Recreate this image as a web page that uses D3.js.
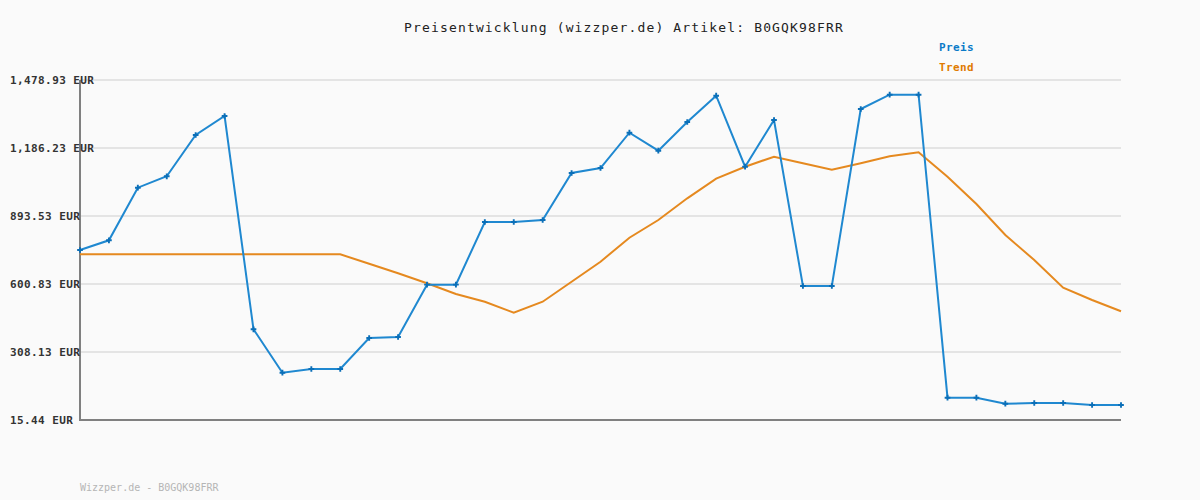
<!DOCTYPE html>
<html><head><meta charset="utf-8">
<script src="https://cdn.jsdelivr.net/npm/d3@7"></script>
<style>body{margin:0;background:#fafafa;}svg{display:block;}</style>
</head><body>
<svg id="c" width="1200" height="500"></svg>
<script>
const title = "Preisentwicklung (wizzper.de) Artikel: B0GQK98FRR";
const footer = "Wizzper.de - B0GQK98FRR";
const seriesNames = ["Preis", "Trend"];
const yTicks = [15.44, 308.13, 600.83, 893.53, 1186.23, 1478.93];
const yTickLabels = ["15.44 EUR", "308.13 EUR", "600.83 EUR", "893.53 EUR", "1,186.23 EUR", "1,478.93 EUR"];
const preis = [747.2, 788.9, 1015.4, 1064.4, 1242.2, 1324.0, 405.8, 219.0, 235.0, 235.0,
  368.4, 372.7, 598.0, 598.0, 867.7, 867.7, 876.3, 1078.6, 1100.1, 1252.1,
  1174.6, 1298.1, 1411.4, 1105.7, 1306.8, 592.2, 592.2, 1354.1, 1415.7, 1415.7,
  111.4, 111.4, 85.6, 88.6, 88.6, 80.0, 80.0];
const trend = [728.7, 728.7, 728.7, 728.7, 728.7, 728.7, 728.7, 728.7, 728.7, 728.7,
  688.2, 646.9, 603.8, 557.8, 524.6, 477.3, 524.6, 610.7, 696.8, 800.1,
  876.3, 969.7, 1054.1, 1105.7, 1148.8, 1120.4, 1092.8, 1120.4, 1150.5, 1167.7,
  1062.7, 945.2, 811.7, 704.1, 584.9, 532.0, 483.3];

const svg = d3.select("#c");
const L = 80, R = 1121, T = 80, B = 420;
const x = d3.scaleLinear().domain([0, preis.length - 1]).range([L, R]);
const y = d3.scaleLinear().domain([yTicks[0], yTicks[yTicks.length - 1]]).range([B, T]);

svg.append("rect").attr("width", 1200).attr("height", 500).attr("fill", "#fafafa");

// gridlines
svg.append("g").selectAll("line").data(yTicks.slice(1)).join("line")
  .attr("x1", L).attr("x2", R).attr("y1", d => y(d)).attr("y2", d => y(d))
  .attr("stroke", "#e4e4e4").attr("stroke-width", 2);

// axes
svg.append("line").attr("x1", L).attr("x2", L).attr("y1", T).attr("y2", B + 1)
  .attr("stroke", "#808080").attr("stroke-width", 2);
svg.append("line").attr("x1", L - 1).attr("x2", R).attr("y1", B).attr("y2", B)
  .attr("stroke", "#808080").attr("stroke-width", 2);

// y labels
svg.append("g").selectAll("text").data(yTicks).join("text")
  .attr("x", 10).attr("y", d => y(d)).attr("dy", "0.35em")
  .attr("font-family", "DejaVu Sans Mono, monospace").attr("font-weight", "bold")
  .attr("font-size", 11).attr("letter-spacing", 0.4).attr("fill", "#333")
  .text((d, i) => yTickLabels[i]);

const line = d3.line().x((d, i) => x(i)).y(d => y(d));
svg.append("path").datum(trend).attr("d", line).attr("fill", "none")
  .attr("stroke", "#e5891f").attr("stroke-width", 2);
svg.append("path").datum(preis).attr("d", line).attr("fill", "none")
  .attr("stroke", "#1f88d0").attr("stroke-width", 2);
svg.append("g").selectAll("path").data(preis).join("path")
  .attr("transform", (d, i) => `translate(${x(i)},${y(d)})`)
  .attr("d", d3.symbol(d3.symbolCross, 18)).attr("fill", "#0b6fb8");

// title
svg.append("text").attr("x", 624).attr("y", 32).attr("text-anchor", "middle")
  .attr("font-family", "DejaVu Sans Mono, monospace").attr("font-size", 13)
  .attr("letter-spacing", 1.15).attr("fill", "#222").text(title);

// legend
const legColors = ["#0a7ac8", "#e07b00"];
svg.append("g").selectAll("text").data(seriesNames).join("text")
  .attr("x", 939).attr("y", (d, i) => 51 + i * 20)
  .attr("font-family", "DejaVu Sans Mono, monospace").attr("font-weight", "bold")
  .attr("font-size", 11).attr("letter-spacing", 0.4)
  .attr("fill", (d, i) => legColors[i]).text(d => d);

// footer
svg.append("text").attr("x", 80).attr("y", 491)
  .attr("font-family", "DejaVu Sans Mono, monospace").attr("font-size", 10)
  .attr("fill", "#b5b5b5").text(footer);
</script>
</body></html>
